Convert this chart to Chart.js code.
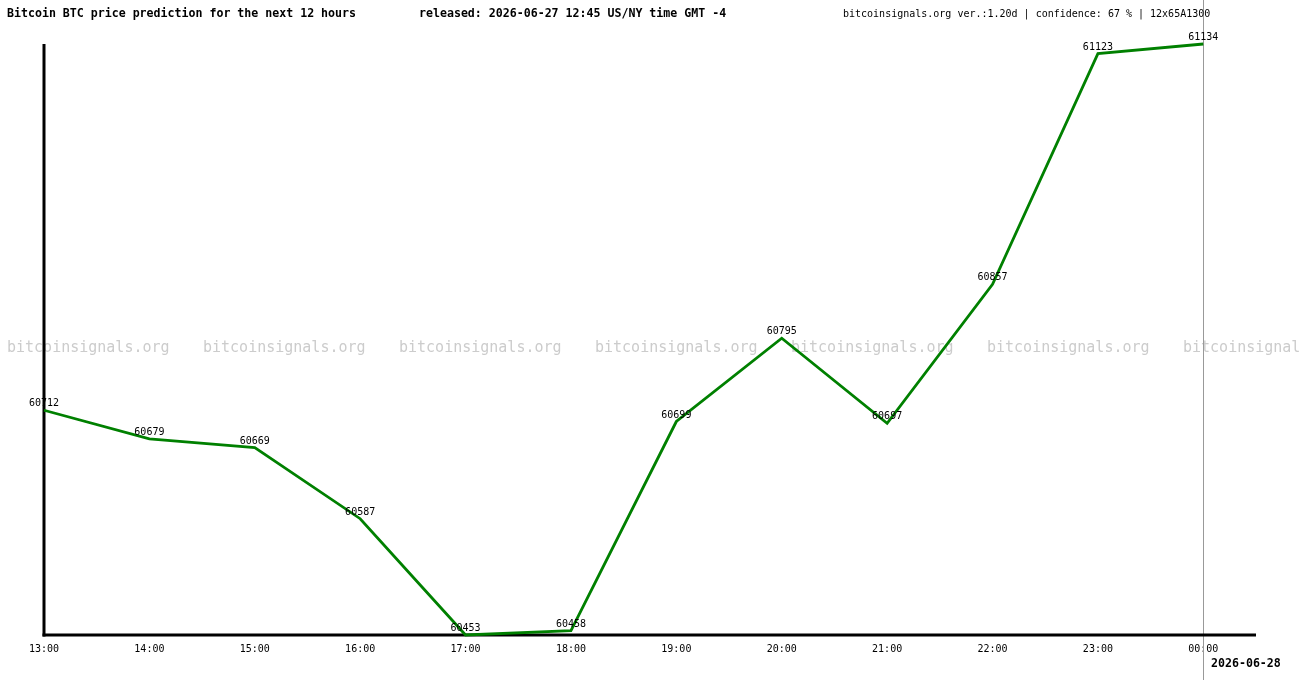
<!DOCTYPE html>
<html>
<head>
<meta charset="utf-8">
<script src="https://cdn.jsdelivr.net/npm/chart.js@4.4.1/dist/chart.umd.min.js"></script>
<style>
html,body{margin:0;padding:0;background:#fff;}
#wrap{width:1300px;height:680px;position:relative;}
</style>
</head>
<body>
<div id="wrap"><canvas id="c" width="1300" height="680"></canvas></div>
<script>
const hours = ["13:00","14:00","15:00","16:00","17:00","18:00","19:00","20:00","21:00","22:00","23:00","00:00"];
const prices = [60712,60679,60669,60587,60453,60458,60699,60795,60697,60857,61123,61134];
const titleText = "Bitcoin BTC price prediction for the next 12 hours";
const releasedText = "released: 2026-06-27 12:45 US/NY time GMT -4";
const infoText = "bitcoinsignals.org ver.:1.20d | confidence: 67 % | 12x65A1300";
const dateText = "2026-06-28";
const watermark = "bitcoinsignals.org";

const MONO = '"DejaVu Sans Mono", "Liberation Mono", monospace';

const points = prices.map((v, i) => ({x: i, y: v}));

const decor = {
  id: 'decor',
  beforeDatasetsDraw(chart) {
    const ctx = chart.ctx;
    const {chartArea} = chart;
    ctx.save();
    // watermark
    ctx.font = '15px ' + MONO;
    ctx.fillStyle = '#cccccc';
    ctx.textBaseline = 'middle';
    ctx.textAlign = 'left';
    for (let k = 0; k < 7; k++) {
      ctx.fillText(watermark, 7 + 196 * k, 348);
    }
    // vertical marker line at last point
    const xs = chart.scales.x;
    const vx = Math.round(xs.getPixelForValue(hours.length - 1)) + 0.5;
    ctx.strokeStyle = '#999999';
    ctx.lineWidth = 1;
    ctx.beginPath();
    ctx.moveTo(vx, 0);
    ctx.lineTo(vx, chart.height);
    ctx.stroke();
    // axes
    ctx.strokeStyle = '#000';
    ctx.lineWidth = 3;
    ctx.beginPath();
    ctx.moveTo(chartArea.left, chartArea.top);
    ctx.lineTo(chartArea.left, chartArea.bottom + 1.5);
    ctx.stroke();
    ctx.beginPath();
    ctx.moveTo(chartArea.left - 1.5, chartArea.bottom);
    ctx.lineTo(chartArea.right, chartArea.bottom);
    ctx.stroke();
    ctx.restore();
  },
  afterDatasetsDraw(chart) {
    const ctx = chart.ctx;
    ctx.save();
    const meta = chart.getDatasetMeta(0);
    ctx.font = '10px ' + MONO;
    ctx.fillStyle = '#000';
    ctx.textAlign = 'center';
    ctx.textBaseline = 'alphabetic';
    meta.data.forEach((p, i) => {
      ctx.fillText(String(prices[i]), p.x, p.y - 4);
    });
    // header texts
    ctx.textAlign = 'left';
    ctx.textBaseline = 'middle';
    ctx.font = 'bold 11.6px ' + MONO;
    ctx.fillText(titleText, 7, 14);
    ctx.fillText(releasedText, 419, 14);
    ctx.font = '10px ' + MONO;
    ctx.fillText(infoText, 843, 14);
    ctx.font = 'bold 11.6px ' + MONO;
    ctx.fillText(dateText, 1211, 664);
    ctx.restore();
  }
};

new Chart(document.getElementById('c'), {
  type: 'line',
  data: {
    datasets: [{
      data: points,
      borderColor: '#008000',
      borderWidth: 2.8,
      pointRadius: 0,
      tension: 0,
      fill: false,
      clip: false
    }]
  },
  options: {
    responsive: false,
    animation: false,
    devicePixelRatio: 1,
    layout: {padding: {left: 44, top: 44, right: 44, bottom: 0}},
    plugins: {legend: {display: false}, tooltip: {enabled: false}, title: {display: false}},
    scales: {
      x: {
        type: 'linear',
        min: 0,
        max: 11.5,
        grid: {display: false, drawTicks: false},
        border: {display: false},
        afterBuildTicks(scale) {
          scale.ticks = hours.map((h, i) => ({value: i}));
        },
        afterFit(scale) { scale.height = 45; },
        ticks: {
          autoSkip: false,
          maxRotation: 0,
          padding: 8,
          color: '#000',
          font: {family: MONO, size: 10},
          callback: (v) => hours[v] !== undefined ? hours[v] : ''
        }
      },
      y: {
        min: 60453,
        max: 61134,
        grid: {display: false, drawTicks: false},
        border: {display: false},
        ticks: {display: false},
        afterFit(scale) { scale.width = 0; }
      }
    }
  },
  plugins: [decor]
});
</script>
</body>
</html>
